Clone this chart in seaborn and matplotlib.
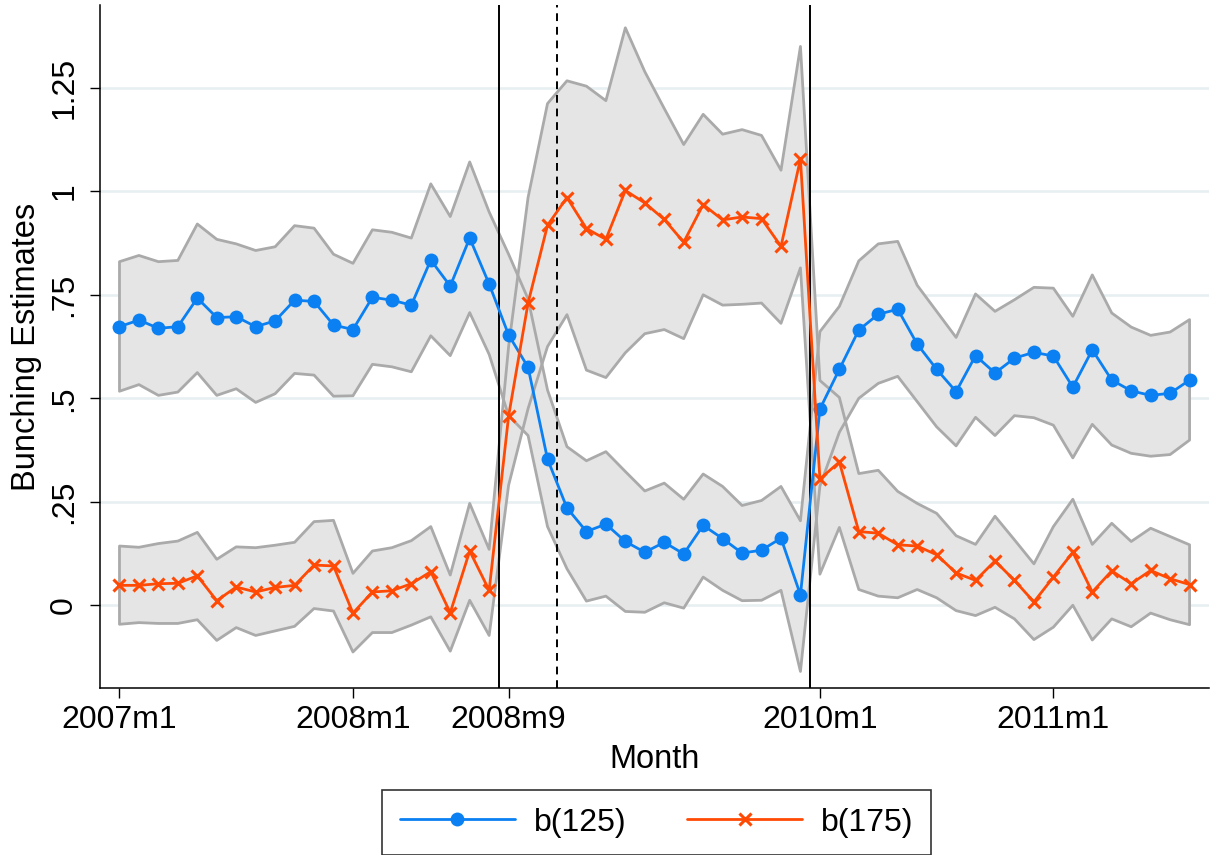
import numpy as np
import pandas as pd
import matplotlib
matplotlib.use('Agg')
import matplotlib.pyplot as plt
import seaborn as sns

# monthly bunching estimates, 2007m1 .. 2011m8
start_year, start_month = 2007, 1
n_months = 56

b125 = [0.673, 0.689, 0.669, 0.673, 0.742, 0.695, 0.697, 0.673, 0.687, 0.737,
        0.734, 0.677, 0.666, 0.744, 0.737, 0.725, 0.834, 0.771, 0.887, 0.776,
        0.653, 0.575, 0.353, 0.235, 0.178, 0.196, 0.154, 0.128, 0.152, 0.124,
        0.193, 0.161, 0.126, 0.133, 0.162, 0.025, 0.474, 0.570, 0.665, 0.703,
        0.715, 0.631, 0.570, 0.516, 0.603, 0.561, 0.597, 0.611, 0.602, 0.527,
        0.617, 0.544, 0.518, 0.507, 0.512, 0.544]
b125_hi = [0.830, 0.845, 0.830, 0.833, 0.921, 0.884, 0.873, 0.857, 0.866, 0.917,
           0.911, 0.848, 0.826, 0.907, 0.901, 0.887, 1.018, 0.939, 1.071, 0.950,
           0.848, 0.740, 0.520, 0.383, 0.349, 0.371, 0.323, 0.276, 0.295, 0.256,
           0.317, 0.287, 0.241, 0.253, 0.287, 0.204, 0.661, 0.722, 0.832, 0.873,
           0.879, 0.773, 0.710, 0.647, 0.752, 0.710, 0.738, 0.768, 0.766, 0.698,
           0.798, 0.706, 0.672, 0.652, 0.660, 0.690]
b125_lo = [0.517, 0.533, 0.507, 0.515, 0.562, 0.507, 0.523, 0.490, 0.511, 0.560,
           0.556, 0.505, 0.506, 0.582, 0.576, 0.564, 0.651, 0.603, 0.707, 0.606,
           0.458, 0.410, 0.190, 0.088, 0.010, 0.022, -0.015, -0.017, 0.006, -0.007,
           0.068, 0.036, 0.011, 0.012, 0.036, -0.160, 0.288, 0.418, 0.500, 0.536,
           0.553, 0.492, 0.431, 0.385, 0.454, 0.410, 0.458, 0.453, 0.435, 0.356,
           0.437, 0.387, 0.367, 0.360, 0.364, 0.399]

b175 = [0.048, 0.048, 0.052, 0.053, 0.071, 0.011, 0.044, 0.032, 0.043, 0.048,
        0.097, 0.095, -0.019, 0.032, 0.035, 0.052, 0.081, -0.018, 0.131, 0.036,
        0.457, 0.730, 0.918, 0.985, 0.910, 0.884, 1.002, 0.972, 0.932, 0.877,
        0.968, 0.931, 0.938, 0.934, 0.867, 1.078, 0.305, 0.346, 0.178, 0.174,
        0.146, 0.143, 0.122, 0.078, 0.060, 0.107, 0.060, 0.008, 0.068, 0.128,
        0.032, 0.083, 0.052, 0.084, 0.064, 0.050]
b175_hi = [0.143, 0.140, 0.149, 0.155, 0.176, 0.111, 0.141, 0.139, 0.145, 0.152,
           0.202, 0.205, 0.077, 0.131, 0.139, 0.156, 0.190, 0.073, 0.246, 0.135,
           0.625, 0.985, 1.212, 1.267, 1.254, 1.219, 1.395, 1.289, 1.200, 1.113,
           1.186, 1.138, 1.149, 1.135, 1.051, 1.350, 0.543, 0.502, 0.318, 0.326,
           0.275, 0.246, 0.222, 0.168, 0.147, 0.215, 0.158, 0.100, 0.190, 0.256,
           0.147, 0.198, 0.154, 0.186, 0.166, 0.146]
b175_lo = [-0.046, -0.042, -0.044, -0.044, -0.035, -0.085, -0.054, -0.073, -0.062, -0.051,
           -0.008, -0.014, -0.113, -0.066, -0.066, -0.048, -0.028, -0.111, 0.012, -0.073,
           0.290, 0.475, 0.625, 0.702, 0.568, 0.550, 0.610, 0.656, 0.666, 0.644,
           0.750, 0.725, 0.727, 0.730, 0.681, 0.815, 0.075, 0.188, 0.038, 0.022,
           0.018, 0.038, 0.018, -0.013, -0.025, -0.005, -0.033, -0.083, -0.053, 0.000,
           -0.084, -0.033, -0.052, -0.019, -0.035, -0.047]

tick_months = ['2007m1', '2008m1', '2008m9', '2010m1', '2011m1']
y_ticks = [0, 0.25, 0.5, 0.75, 1, 1.25]
y_tick_labels = ['0', '.25', '.5', '.75', '1', '1.25']
# vertical reference lines drawn between a month and the next one
breaks_solid = ['2008m8', '2009m12']
breaks_dashed = ['2008m11']


def month_index(lbl):
    y, m = lbl.split('m')
    return (int(y) - start_year) * 12 + int(m) - start_month


df = pd.DataFrame({
    't': np.arange(n_months),
    'b125': b125, 'b125_lo': b125_lo, 'b125_hi': b125_hi,
    'b175': b175, 'b175_lo': b175_lo, 'b175_hi': b175_hi,
})

sns.set_theme(style='white')
plt.rcParams['font.family'] = ['Liberation Sans', 'DejaVu Sans']
plt.rcParams['text.color'] = 'black'
plt.rcParams['axes.labelcolor'] = 'black'
plt.rcParams['xtick.color'] = 'black'
plt.rcParams['ytick.color'] = 'black'

blue = '#0a80f2'
orange = '#ff4a05'
band_fill = '#e5e5e5'
band_edge = '#aaaaaa'

fig = plt.figure(figsize=(12.14, 8.55), dpi=100)
ax = fig.add_axes([0.0824, 0.1953, 0.9135, 0.7988])

# CI bands: fills first, then the closed outlines on top
for s in ['b125', 'b175']:
    ax.fill_between(df['t'], df[s + '_lo'], df[s + '_hi'], color=band_fill, lw=0, zorder=1)
for s in ['b125', 'b175']:
    ax.fill_between(df['t'], df[s + '_lo'], df[s + '_hi'], facecolor='none',
                    edgecolor=band_edge, lw=2.0, zorder=2)

for b in breaks_solid:
    ax.axvline(month_index(b) + 0.5, color='black', lw=1.4, zorder=3)
for b in breaks_dashed:
    ax.axvline(month_index(b) + 0.5, color='black', lw=1.4, ls=(0, (4, 3)), zorder=3)

sns.lineplot(data=df, x='t', y='b125', color=blue, lw=2.0, marker='o', markersize=10,
             markeredgewidth=0, label='b(125)', ax=ax, zorder=5)
sns.lineplot(data=df, x='t', y='b175', color=orange, lw=2.0, marker='x', markersize=8,
             markeredgewidth=2.2, markeredgecolor=orange, label='b(175)', ax=ax, zorder=5)

ax.set_xlim(-1, n_months)
ax.set_ylim(-0.2, 1.45)
ax.set_xticks([month_index(m) for m in tick_months])
ax.set_xticklabels(tick_months, fontsize=23)
ax.set_yticks(y_ticks)
ax.set_yticklabels(y_tick_labels, fontsize=23, rotation=90, va='center')
ax.tick_params(axis='x', direction='out', length=7, width=1, color='black', pad=5, bottom=True)
ax.tick_params(axis='y', direction='out', length=7, width=1, color='black', pad=8, left=True)
ax.yaxis.grid(True, color='#e6eff1', lw=1.8)
ax.xaxis.grid(False)
ax.set_axisbelow(True)

for sp in ['top', 'right']:
    ax.spines[sp].set_visible(False)
for sp in ['left', 'bottom']:
    ax.spines[sp].set_color('black')
    ax.spines[sp].set_linewidth(1.1)

ax.set_xlabel('Month', fontsize=23.5, labelpad=7)
ax.set_ylabel('Bunching Estimates', fontsize=23.5, labelpad=5)

ax.get_legend().remove()
handles, labels = ax.get_legend_handles_labels()
leg = fig.legend(handles, labels, loc='center', bbox_to_anchor=(0.541, 0.038), ncol=2,
                 fontsize=23, frameon=True, fancybox=False, edgecolor='black',
                 handlelength=3.6, handletextpad=0.6, columnspacing=1.9, borderpad=0.55)
leg.get_frame().set_linewidth(1.2)

fig.savefig('out.png', dpi=100)
